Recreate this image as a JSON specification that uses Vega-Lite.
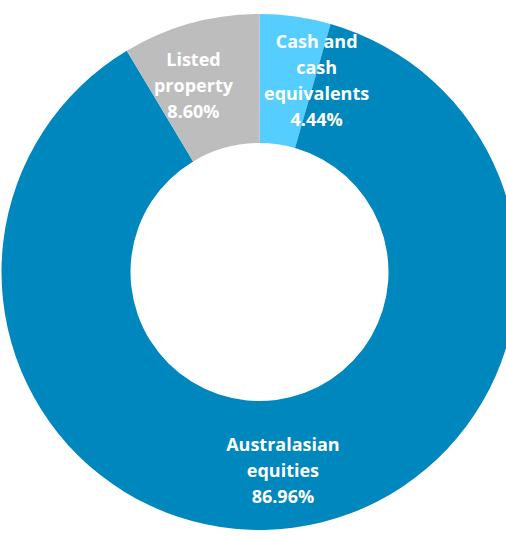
{
  "$schema": "https://vega.github.io/schema/vega-lite/v6.json",
  "autosize": {"type": "fit", "contains": "padding"},
  "width": 506,
  "height": 538,
  "padding": {"left": 13, "right": 0, "top": 6, "bottom": 0},
  "background": "white",
  "view": {"stroke": null},
  "data": {
    "values": [
      {"category": "Cash and cash equivalents", "label": "Cash and\ncash\nequivalents", "value": 4.44},
      {"category": "Australasian equities", "label": "Australasian\nequities", "value": 86.96},
      {"category": "Listed property", "label": "Listed\nproperty", "value": 8.60}
    ]
  },
  "transform": [
    {"window": [{"op": "row_number", "as": "idx"}]},
    {"stack": "value", "groupby": [], "sort": [{"field": "idx", "order": "ascending"}], "as": ["v0", "v1"]},
    {"calculate": "(datum.v0 + datum.v1) / 2", "as": "mid"},
    {"calculate": "datum.label + '\\n' + format(datum.value, '.2f') + '%'", "as": "text"}
  ],
  "layer": [
    {
      "mark": {"type": "arc", "outerRadius": 258, "innerRadius": 129},
      "encoding": {
        "theta": {"field": "v0", "type": "quantitative", "stack": null, "scale": {"domain": [0, 100]}},
        "theta2": {"field": "v1"},
        "color": {
          "field": "category",
          "type": "nominal",
          "scale": {
            "domain": ["Cash and cash equivalents", "Australasian equities", "Listed property"],
            "range": ["#55CEFF", "#0087BE", "#BDBDBD"]
          },
          "legend": null
        }
      }
    },
    {
      "transform": [{"filter": "datum.idx == 1"}],
      "mark": {"type": "text", "radius": 195, "dx": 30, "dy": -36, "font": "Open Sans", "fontWeight": "bold", "fontSize": 18, "lineHeight": 26, "lineBreak": "\n", "color": "white", "align": "center", "baseline": "middle"},
      "encoding": {
        "theta": {"field": "mid", "type": "quantitative", "stack": null, "scale": {"domain": [0, 100]}},
        "text": {"field": "text"}
      }
    },
    {
      "transform": [{"filter": "datum.idx == 2"}],
      "mark": {"type": "text", "radius": 195, "dx": -2, "dy": -19, "font": "Open Sans", "fontWeight": "bold", "fontSize": 18, "lineHeight": 26, "lineBreak": "\n", "color": "white", "align": "center", "baseline": "middle"},
      "encoding": {
        "theta": {"field": "mid", "type": "quantitative", "stack": null, "scale": {"domain": [0, 100]}},
        "text": {"field": "text"}
      }
    },
    {
      "transform": [{"filter": "datum.idx == 3"}],
      "mark": {"type": "text", "radius": 195, "dx": -14, "dy": -23, "font": "Open Sans", "fontWeight": "bold", "fontSize": 18, "lineHeight": 26, "lineBreak": "\n", "color": "white", "align": "center", "baseline": "middle"},
      "encoding": {
        "theta": {"field": "mid", "type": "quantitative", "stack": null, "scale": {"domain": [0, 100]}},
        "text": {"field": "text"}
      }
    }
  ]
}
